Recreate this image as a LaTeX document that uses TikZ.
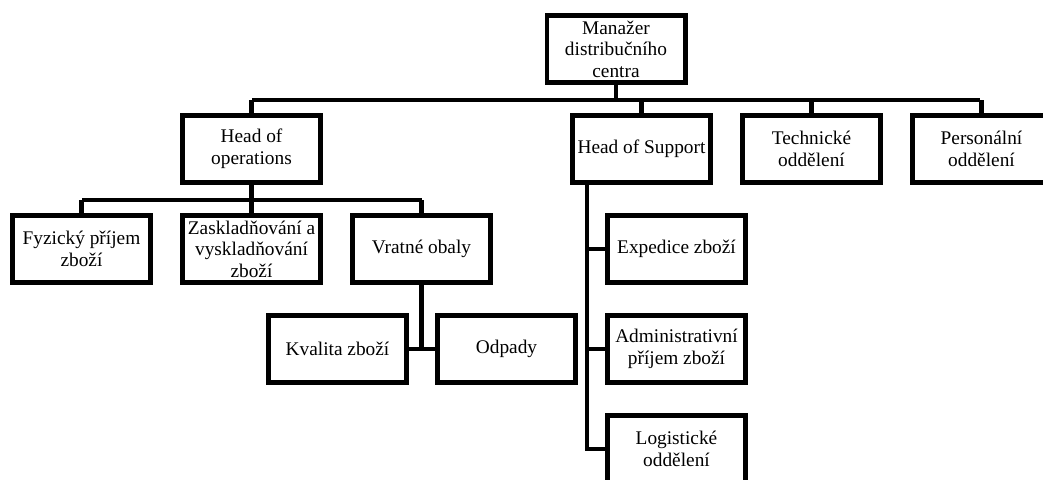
\documentclass[tikz,border=0pt]{standalone}
\usepackage{fontspec}
\setmainfont{Liberation Serif}
\begin{document}
\begin{tikzpicture}[x=0.75pt,y=-0.75pt,
  box/.style={draw=black,line width=3.5pt,fill=white,minimum width=103.75pt,minimum height=50.5pt,
    inner sep=1pt,align=center,font=\fontsize{14.5}{16.2}\selectfont},
  conn/.style={draw=black,line width=3.5pt}]
\useasboundingbox (0,0) rectangle (1043,479);
\clip (0,0) rectangle (1043,479);
\fill[white] (0,0) rectangle (1043,479);
% nodes
\node[box] (mgr) at (616,49) {Manažer\\distribučního\\centra};
\node[box] (hoo) at (251.5,149) {Head of\\operations};
\node[box] (hos) at (641.5,149) {Head of Support};
\node[box] (tech) at (811.5,149) {Technické\\oddělení};
\node[box] (pers) at (981.5,149) {Personální\\oddělení};
\node[box] (fyz) at (81.5,249) {Fyzický příjem\\zboží};
\node[box] (zask) at (251.5,249) {Zaskladňování a\\vyskladňování\\zboží};
\node[box] (vrat) at (421.5,249) {Vratné obaly};
\node[box] (kval) at (337.5,349) {Kvalita zboží};
\node[box] (odp) at (506.5,349) {Odpady};
\node[box] (exp) at (676.5,249) {Expedice zboží};
\node[box] (adm) at (676.5,349) {Administrativní\\příjem zboží};
\node[box] (log) at (676.5,449) {Logistické\\oddělení};
% bus coordinates
\coordinate (busL) at (252,100);
\coordinate (busR) at (980,100);
\coordinate (b2L) at (82,200);
\coordinate (b2R) at (422,200);
\coordinate (sv) at (587,300);
% connectors
\draw[conn] (mgr.south) -- (mgr.south |- busL);
\draw[conn] (busL) -- (busR);
\draw[conn] (hoo.north) -- (hoo.north |- busL);
\draw[conn] (hos.north) -- (hos.north |- busL);
\draw[conn] (tech.north) -- (tech.north |- busL);
\draw[conn] (pers.north) -- (pers.north |- busL);
\draw[conn] (hoo.south) -- (hoo.south |- b2L);
\draw[conn] (b2L) -- (b2R);
\draw[conn] (fyz.north) -- (fyz.north |- b2L);
\draw[conn] (zask.north) -- (zask.north |- b2L);
\draw[conn] (vrat.north) -- (vrat.north |- b2L);
\draw[conn] (vrat.south) -- (vrat.south |- kval.east);
\draw[conn] (kval.east) -- (odp.west);
\draw[conn] (sv |- hos.south) -- (sv |- log.west) -- (log.west);
\draw[conn] (sv |- exp.west) -- (exp.west);
\draw[conn] (sv |- adm.west) -- (adm.west);
\end{tikzpicture}
\end{document}
